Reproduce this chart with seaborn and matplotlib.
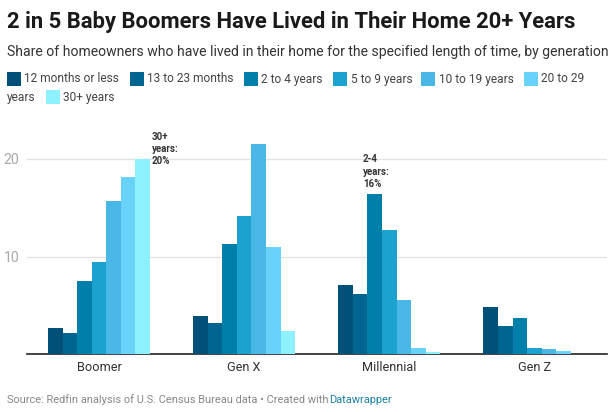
import matplotlib
matplotlib.use("Agg")
import matplotlib.pyplot as plt
from matplotlib.patches import Rectangle
from matplotlib.transforms import Affine2D
import pandas as pd
import seaborn as sns

generations = ["Boomer", "Gen X", "Millennial", "Gen Z"]
durations = ["12 months or less", "13 to 23 months", "2 to 4 years", "5 to 9 years",
             "10 to 19 years", "20 to 29 years", "30+ years"]
colors = ["#00507a", "#006590", "#007fab", "#1ba2ce", "#4ab8e6", "#68d2fb", "#8df1ff"]
boomer = [2.7, 2.2, 7.5, 9.4, 15.7, 18.2, 20.0]
gen_x = [3.9, 3.2, 11.3, 14.2, 21.5, 11.0, 2.4]
millennial = [7.1, 6.2, 16.4, 12.7, 5.5, 0.6, 0.2]
gen_z = [4.8, 2.9, 3.7, 0.6, 0.5, 0.3, 0.0]
series = [boomer, gen_x, millennial, gen_z]

rows = [(g, d, v) for g, vals in zip(generations, series) for d, v in zip(durations, vals)]
df = pd.DataFrame(rows, columns=["generation", "duration", "share"])

sns.set_theme(style="white")
plt.rcParams["font.family"] = ["Roboto", "DejaVu Sans"]

W, H = 616, 412
fig = plt.figure(figsize=(W / 100, H / 100), dpi=100, facecolor="white")
x0, x1, ytop, ybase = 26.5, 607, 120, 354
ax = fig.add_axes([x0 / W, 1 - ybase / H, (x1 - x0) / W, (ybase - ytop) / H])

sns.barplot(data=df, x="generation", y="share", hue="duration", hue_order=durations,
            palette=colors, width=0.703, gap=0, saturation=1, legend=False,
            linewidth=0, zorder=3, ax=ax)
ax.set_xlim(-0.5, 3.5)
ax.set_ylim(0, (ybase - ytop) / 9.75)
ax.set_yticks([10, 20])
ax.set_xlabel("")
ax.set_ylabel("")
ax.grid(axis="y", color="#e3e3e3", linewidth=1, zorder=0)
for s in ["top", "left", "right"]:
    ax.spines[s].set_visible(False)
ax.spines["bottom"].set_color("#222222")
ax.spines["bottom"].set_linewidth(1.2)
ax.tick_params(axis="x", length=0, pad=5, labelsize=9.2, labelcolor="#333333")
ax.tick_params(axis="y", length=0, pad=5, labelsize=10.2, labelcolor="#a8a8a8")

px = Affine2D().scale(1, -1).translate(0, H)  # pixel coordinates, origin at top-left


def ftext(x, y, s, **kw):
    fig.text(x, y, s, transform=px, va="center", ha="left", **kw)


ftext(7, 22, "2 in 5 Baby Boomers Have Lived in Their Home 20+ Years",
      fontsize=15.8, fontweight="bold", color="#1a1a1a")
ftext(7, 52, "Share of homeowners who have lived in their home for the specified length of time, by generation",
      fontsize=10.05, color="#333333")

legend_items = [(7, 24, durations[0]), (130, 147, durations[1]), (244, 261, durations[2]),
                (333, 351, durations[3]), (421, 439, durations[4]), (524, 541, "20 to 29")]
for bx, tx, label in legend_items:
    i = durations.index(label) if label in durations else 5
    fig.add_artist(Rectangle((bx, 72), 14, 14, transform=px, facecolor=colors[i], edgecolor="none"))
    ftext(tx, 79, label, fontsize=8.6, color="#444444")
ftext(7, 97, "years", fontsize=8.6, color="#444444")
fig.add_artist(Rectangle((46, 90), 14, 14, transform=px, facecolor=colors[6], edgecolor="none"))
ftext(63, 97, durations[6], fontsize=8.6, color="#444444")

ann = dict(fontsize=7.0, fontweight="bold", color="#333333")
ftext(152, 137, "30+", **ann)
ftext(152, 149.5, "years:", **ann)
ftext(152, 161.5, "20%", **ann)
ftext(363, 159, "2-4", **ann)
ftext(363, 172, "years:", **ann)
ftext(363, 184, "16%", **ann)

ftext(7, 400, "Source: Redfin analysis of U.S. Census Bureau data • Created with",
      fontsize=7.9, color="#888888")
ftext(329, 400, "Datawrapper", fontsize=7.9, color="#1d81a2")

fig.savefig("out.png", dpi=100)
